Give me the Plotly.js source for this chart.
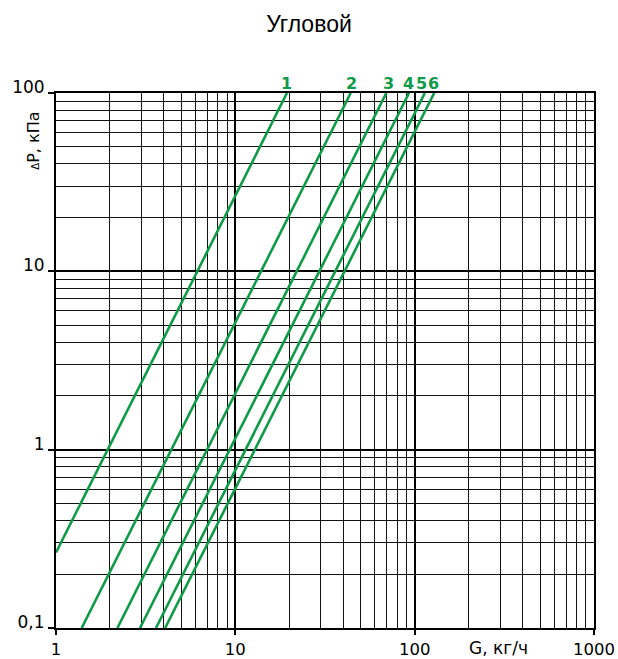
<!DOCTYPE html>
<html>
<head>
<meta charset="utf-8">
<script src="https://cdn.plot.ly/plotly-3.0.1.min.js"></script>
<style>html,body{margin:0;padding:0;background:#fff;}#chart{width:618px;height:659px;}</style>
</head>
<body>
<div id="chart"></div>
<script>
// Curve labels
const curveNames = ['1', '2', '3', '4', '5', '6'];
// Start points of each line (G, кг/ч ; ΔP, кПа)
const gStart = [1, 1.39, 2.20, 2.94, 3.61, 4.06];
const pStart = [0.265, 0.1, 0.1, 0.1, 0.1, 0.1];
// End points of each line at the top of the chart
const gEnd = [19.4, 44, 69.5, 93, 114, 128.5];
const pEnd = [100, 100, 100, 100, 100, 100];
// G positions of the curve number labels above the chart
const labelG = [19.4, 44.2, 71.7, 92.7, 109.6, 127];

// Axis ticks
const xTickVals = [1, 10, 100, 1000];
const xTickText = ['1', '10', '100', '1000'];
const yTickVals = [0.1, 1, 10, 100];
const yTickText = ['0,1', '1', '10', '100'];
const xMinorVals = [2,3,4,5,6,7,8,9,20,30,40,50,60,70,80,90,200,300,400,500,600,700,800,900];
const yMinorVals = [0.2,0.3,0.4,0.5,0.6,0.7,0.8,0.9,2,3,4,5,6,7,8,9,20,30,40,50,60,70,80,90];

const green = '#0f9a48';
const xTickFont = {family: 'DejaVu Sans, sans-serif', size: 16.5, color: '#000'};
const yTickFont = {family: 'DejaVu Sans, sans-serif', size: 17, color: '#000'};

const traces = curveNames.map((name, i) => ({
  type: 'scatter',
  mode: 'lines',
  name: name,
  x: [gStart[i], gEnd[i]],
  y: [pStart[i], pEnd[i]],
  line: {color: green, width: 2.6},
  hoverinfo: 'skip'
}));

const annotations = curveNames.map((name, i) => ({
  xref: 'x', yref: 'paper',
  x: Math.log10(labelG[i]), y: 1,
  xanchor: 'center', yanchor: 'bottom',
  yshift: -2,
  text: name,
  showarrow: false,
  font: {family: 'DejaVu Sans, sans-serif', size: 16, color: green, weight: 'bold'}
}));

annotations.push({
  xref: 'paper', yref: 'paper', x: 0.823, y: 0,
  xanchor: 'center', yanchor: 'top', yshift: -8,
  text: 'G, кг/ч', showarrow: false,
  font: {family: 'DejaVu Sans, sans-serif', size: 17, color: '#000'}
});
annotations.push({
  xref: 'paper', yref: 'paper', x: 0, y: 0.91,
  xanchor: 'right', yanchor: 'middle', xshift: -11,
  textangle: -90,
  text: '<span style="font-size:10px">Δ</span>P, кПа', showarrow: false,
  font: {family: 'DejaVu Sans, sans-serif', size: 16, color: '#000'}
});

const layout = {
  width: 618, height: 659,
  margin: {l: 56, r: 24, t: 93, b: 31, pad: 0},
  paper_bgcolor: '#fff', plot_bgcolor: '#fff',
  showlegend: false,
  title: {text: 'Угловой', x: 0.5, xref: 'container', xanchor: 'center', y: 0.963, yanchor: 'middle',
          font: {family: 'Liberation Sans, Arial, sans-serif', size: 23, color: '#000'}},
  xaxis: {
    type: 'log', range: [0, 3],
    tickmode: 'array', tickvals: xTickVals, ticktext: xTickText,
    ticks: 'outside', ticklen: 5, tickwidth: 2, tickcolor: '#000',
    tickfont: xTickFont,
    showgrid: true, gridcolor: '#000', gridwidth: 2,
    showline: true, linecolor: '#000', linewidth: 2, mirror: true,
    zeroline: false,
    minor: {tickmode: 'array', tickvals: xMinorVals, showgrid: true, gridcolor: '#111', gridwidth: 1, ticks: ''}
  },
  yaxis: {
    type: 'log', range: [-1, 2],
    tickmode: 'array', tickvals: yTickVals, ticktext: yTickText,
    ticks: 'outside', ticklen: 6, tickwidth: 2, tickcolor: '#000',
    tickfont: yTickFont,
    ticklabelshift: -6,
    showgrid: true, gridcolor: '#000', gridwidth: 2,
    showline: true, linecolor: '#000', linewidth: 2, mirror: true,
    zeroline: false,
    minor: {tickmode: 'array', tickvals: yMinorVals, showgrid: true, gridcolor: '#111', gridwidth: 1, ticks: ''}
  },
  annotations: annotations
};

Plotly.newPlot('chart', traces, layout, {staticPlot: true, displayModeBar: false});
</script>
</body>
</html>
